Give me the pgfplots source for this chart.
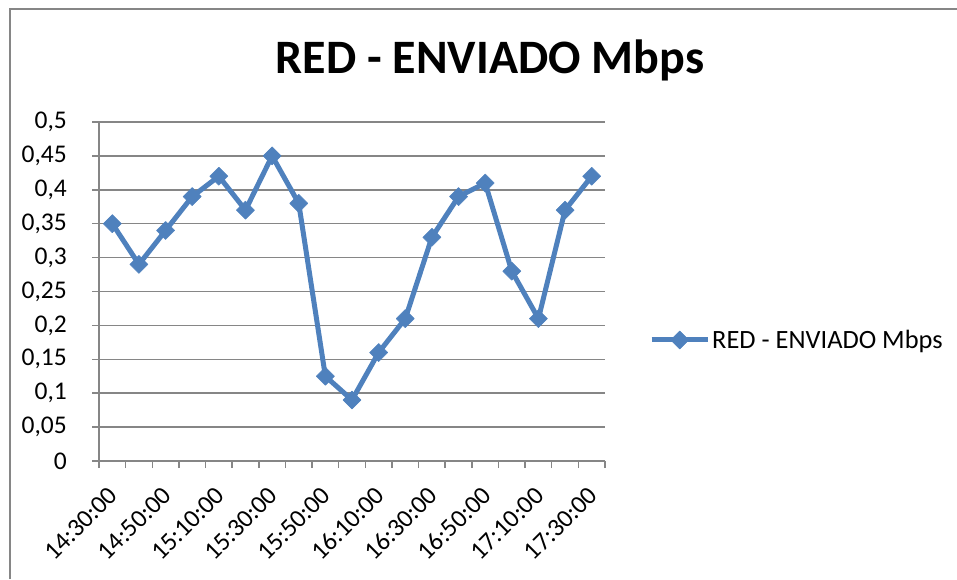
\documentclass[border=0pt]{standalone}
\usepackage{pgfplots}
\pgfplotsset{compat=1.18}
\usepackage{fontspec}
\setmainfont{Carlito}
\definecolor{ser}{RGB}{79,129,189}
\definecolor{gridc}{RGB}{134,134,134}
\begin{document}
\begin{tikzpicture}[x=1pt,y=1pt]
\useasboundingbox (0,0) rectangle (957,579);
\draw[gridc,line width=2pt] (9.5,0) -- (9.5,570) -- (957,570);
\node[font=\fontsize{48}{54}\selectfont\bfseries] at (490,519) {RED - ENVIADO Mbps};
\begin{axis}[
  at={(99pt,118pt)}, anchor=south west,
  scale only axis, width=506pt, height=339pt,
  xmin=-0.5, xmax=18.5, ymin=0, ymax=0.5,
  axis x line*=bottom, axis y line*=left,
  axis line style={-, gridc, line width=1.5pt},
  ytick={0,0.05,0.1,0.15,0.2,0.25,0.3,0.35,0.4,0.45,0.5},
  xtick={-0.5,0.5,...,18.5},
  xticklabels={},
  extra x ticks={0,2,4,6,8,10,12,14,16,18},
  extra x tick labels={14:30:00,14:50:00,15:10:00,15:30:00,15:50:00,16:10:00,16:30:00,16:50:00,17:10:00,17:30:00},
  extra x tick style={major tick length=0pt, grid=none,
    xticklabel style={xshift=-5pt, yshift=-24pt, rotate=45, anchor=north east, inner sep=0pt}},
  yticklabel style={anchor=east, inner sep=0pt, xshift=-25pt},
  tick align=outside, major tick length=7pt,
  tick style={gridc, line width=1.5pt},
  ymajorgrids, grid style={gridc, line width=1.5pt},
  /pgf/number format/.cd, use comma, fixed, precision=2, assume math mode=true, /pgfplots/.cd,
  ticklabel style={font=\fontsize{25.5}{30}\selectfont},
  legend style={at={(1.087,0.357)}, anchor=west, draw=none, fill=none, inner sep=0pt,
    font=\fontsize{26.4}{30}\selectfont},
  legend cell align=left,
  legend image code/.code={\draw[mark repeat=2,mark phase=2] plot coordinates {(0pt,0pt) (28pt,0pt) (56pt,0pt)};},
]
\addplot[ser, line width=5pt, line join=round, mark=square*, mark size=6.4pt,
  mark options={rotate=45, line width=0.5pt, fill=ser, solid}]
coordinates {
(0,0.35) (1,0.29) (2,0.34) (3,0.39) (4,0.42) (5,0.37) (6,0.45) (7,0.38)
(8,0.125) (9,0.09) (10,0.16) (11,0.21) (12,0.33) (13,0.39) (14,0.41)
(15,0.28) (16,0.21) (17,0.37) (18,0.42)};
\addlegendentry{RED - ENVIADO Mbps}
\end{axis}
\end{tikzpicture}
\end{document}
